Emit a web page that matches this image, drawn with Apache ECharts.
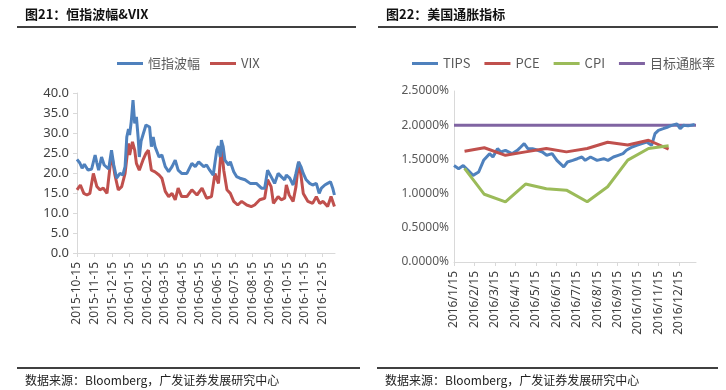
<!DOCTYPE html>
<html><head><meta charset="utf-8">
<script src="https://cdn.jsdelivr.net/npm/echarts@6/dist/echarts.min.js"></script>
<style>html,body{margin:0;padding:0;background:#fff}#c{width:726px;height:390px}</style>
</head><body><div id="c"></div><script>
// ---------- Left chart: 恒指波幅 & VIX ----------
const hsiDates = ['2015-10-15','2015-10-20','2015-10-24','2015-10-28','2015-10-31','2015-11-04','2015-11-10','2015-11-16','2015-11-19','2015-11-22','2015-11-27','2015-12-01','2015-12-05','2015-12-09','2015-12-14','2015-12-18','2015-12-23','2015-12-29','2016-01-03','2016-01-07','2016-01-10','2016-01-13','2016-01-15','2016-01-18','2016-01-21','2016-01-24','2016-01-27','2016-01-30','2016-02-02','2016-02-05','2016-02-08','2016-02-13','2016-02-16','2016-02-19','2016-02-22','2016-02-25','2016-02-28','2016-03-05','2016-03-10','2016-03-16','2016-03-22','2016-03-28','2016-04-03','2016-04-08','2016-04-14','2016-04-23','2016-05-01','2016-05-07','2016-05-13','2016-05-22','2016-05-27','2016-06-02','2016-06-08','2016-06-14','2016-06-17','2016-06-20','2016-06-22','2016-06-25','2016-06-28','2016-07-04','2016-07-07','2016-07-13','2016-07-18','2016-07-24','2016-08-02','2016-08-11','2016-08-22','2016-08-31','2016-09-06','2016-09-11','2016-09-17','2016-09-23','2016-09-29','2016-10-04','2016-10-10','2016-10-13','2016-10-19','2016-10-25','2016-10-30','2016-11-04','2016-11-08','2016-11-12','2016-11-17','2016-11-23','2016-11-28','2016-12-04','2016-12-09','2016-12-13','2016-12-19','2016-12-24','2016-12-29','2017-01-02','2017-01-05'];
const hsiValues = [23.4,22.5,21.2,22.2,21.8,20.7,21.0,24.5,22.5,20.7,24.0,22.0,21.5,21.0,25.7,22.0,18.7,19.9,19.5,21.6,29.0,31.0,29.5,33.0,38.2,32.4,34.0,29.0,24.0,28.0,29.5,32.0,32.4,31.5,26.6,29.0,26.6,24.0,24.5,21.6,20.3,21.6,23.2,20.7,19.9,19.9,22.4,21.6,22.8,21.6,22.0,20.7,19.5,25.7,26.7,24.0,28.2,26.6,23.2,22.0,22.8,20.3,19.1,18.7,18.3,17.4,17.4,16.2,16.2,20.7,19.1,17.4,19.9,19.1,18.3,19.5,18.7,17.0,19.9,22.8,21.6,19.9,18.3,17.4,17.0,17.4,14.9,16.2,17.0,17.4,17.8,16.2,14.5];
const vixDates = ['2015-10-15','2015-10-21','2015-10-27','2015-11-02','2015-11-07','2015-11-13','2015-11-19','2015-11-24','2015-11-30','2015-12-06','2015-12-12','2015-12-15','2015-12-20','2015-12-26','2016-01-01','2016-01-07','2016-01-13','2016-01-15','2016-01-20','2016-01-24','2016-01-27','2016-02-02','2016-02-08','2016-02-13','2016-02-17','2016-02-22','2016-02-28','2016-03-05','2016-03-10','2016-03-16','2016-03-22','2016-03-28','2016-04-03','2016-04-08','2016-04-14','2016-04-23','2016-05-01','2016-05-10','2016-05-19','2016-05-27','2016-06-05','2016-06-11','2016-06-17','2016-06-22','2016-06-26','2016-07-01','2016-07-07','2016-07-13','2016-07-20','2016-07-27','2016-08-05','2016-08-13','2016-08-19','2016-08-28','2016-09-06','2016-09-11','2016-09-17','2016-09-21','2016-09-29','2016-10-04','2016-10-10','2016-10-13','2016-10-18','2016-10-25','2016-10-30','2016-11-04','2016-11-08','2016-11-12','2016-11-20','2016-11-28','2016-12-04','2016-12-10','2016-12-16','2016-12-24','2016-12-30','2017-01-05'];
const vixValues = [15.8,17.0,14.9,14.5,14.9,19.9,16.6,15.8,16.2,14.9,22.4,24.0,19.5,15.8,16.6,19.9,27.4,24.5,27.8,25.7,22.4,20.7,23.2,24.9,25.7,20.7,20.3,19.5,18.7,15.4,14.1,14.9,13.3,16.2,14.1,14.1,15.8,14.5,16.2,13.7,14.1,19.9,17.4,26.6,20.7,15.8,14.9,12.9,12.0,12.9,12.0,11.6,12.0,13.3,13.7,18.3,16.6,12.4,14.1,13.3,13.7,17.0,14.5,12.9,16.6,22.8,19.5,14.9,12.9,12.4,14.1,12.4,12.9,11.6,14.1,11.6];
const leftTicks = ['2015-10-15','2015-11-15','2015-12-15','2016-01-15','2016-02-15','2016-03-15','2016-04-15','2016-05-15','2016-06-15','2016-07-15','2016-08-15','2016-09-15','2016-10-15','2016-11-15','2016-12-15'];
const leftEnd = '2017-01-06';

// ---------- Right chart: 美国通胀指标 ----------
const tipsDates = ['2016-01-15','2016-01-22','2016-01-29','2016-02-06','2016-02-13','2016-02-21','2016-02-28','2016-03-07','2016-03-12','2016-03-19','2016-03-24','2016-03-31','2016-04-10','2016-04-18','2016-04-23','2016-04-28','2016-05-03','2016-05-10','2016-05-18','2016-05-25','2016-06-01','2016-06-09','2016-06-16','2016-06-21','2016-06-26','2016-07-01','2016-07-09','2016-07-16','2016-07-23','2016-07-28','2016-08-05','2016-08-15','2016-08-25','2016-09-01','2016-09-09','2016-09-16','2016-09-23','2016-09-28','2016-10-06','2016-10-13','2016-10-21','2016-10-28','2016-11-05','2016-11-10','2016-11-15','2016-11-22','2016-11-29','2016-12-04','2016-12-12','2016-12-17','2016-12-22','2016-12-29','2017-01-08'];
const tipsValues = [1.41,1.365,1.41,1.34,1.267,1.316,1.486,1.584,1.535,1.657,1.608,1.633,1.584,1.633,1.681,1.73,1.657,1.657,1.633,1.608,1.56,1.584,1.486,1.438,1.39,1.462,1.486,1.51,1.535,1.486,1.535,1.486,1.51,1.486,1.535,1.56,1.584,1.633,1.681,1.706,1.73,1.754,1.706,1.876,1.925,1.949,1.974,1.998,2.02,1.949,1.998,1.99,2.01];
const monthEnds = ['2016-01-31','2016-02-29','2016-03-31','2016-04-30','2016-05-31','2016-06-30','2016-07-31','2016-08-31','2016-09-30','2016-10-31','2016-11-30'];
const pceValues = [1.62,1.67,1.56,1.61,1.66,1.61,1.66,1.75,1.71,1.78,1.65];
const cpiValues = [1.37,0.99,0.88,1.14,1.07,1.05,0.88,1.10,1.49,1.66,1.70];
const targetDates = ['2016-01-15','2017-01-10'];
const targetValues = [2.0,2.0];
const rightTicks = ['2016-01-15','2016-02-15','2016-03-15','2016-04-15','2016-05-15','2016-06-15','2016-07-15','2016-08-15','2016-09-15','2016-10-15','2016-11-15','2016-12-15'];
const rightEnd = '2017-01-10';

// date -> month position (integer = 15th of month)
function dim(y,m){return new Date(y,m,0).getDate();}
function mpos(s){const p=s.split('-').map(Number);return p[0]*12+(p[1]-1)+(p[2]-15)/dim(p[0],p[1]);}
function pairs(d,v){return d.map((x,i)=>[mpos(x),v[i]]);}
function pad(n){return n<10?'0'+n:''+n;}
function ym(v){const r=Math.round(v);return {y:Math.floor(r/12), m:r%12+1};}

const BLUE='#4F81BD', RED='#C0504D', GREEN='#9BBB59', PURPLE='#8064A2';
const axisGray='#D9D9D9', labelCol='#595959';
const lblFont="'Noto Sans', 'Liberation Sans', sans-serif";

const chart = echarts.init(document.getElementById('c'), null, {renderer:'canvas'});
chart.setOption({
  animation:false,
  backgroundColor:'#fff',
  title:[
    {text:'图21：恒指波幅&VIX', left:25, top:8, padding:0, textStyle:{fontSize:13, fontWeight:'bold', color:'#111', fontFamily:'Noto Sans CJK SC'}},
    {text:'图22：美国通胀指标', left:386, top:8, padding:0, textStyle:{fontSize:13, fontWeight:'bold', color:'#111', fontFamily:'Noto Sans CJK SC'}},
    {text:'数据来源：Bloomberg，广发证券发展研究中心', left:25, top:374, padding:0, textStyle:{fontSize:12, fontWeight:'normal', color:'#222', fontFamily:'Noto Sans CJK SC'}},
    {text:'数据来源：Bloomberg，广发证券发展研究中心', left:385, top:374, padding:0, textStyle:{fontSize:12, fontWeight:'normal', color:'#222', fontFamily:'Noto Sans CJK SC'}}
  ],
  graphic:[
    {type:'line', shape:{x1:17,y1:27,x2:356,y2:27}, style:{stroke:'#000', lineWidth:1.5}},
    {type:'line', shape:{x1:378,y1:27,x2:718,y2:27}, style:{stroke:'#000', lineWidth:1.5}},
    {type:'line', shape:{x1:17,y1:368,x2:360,y2:368}, style:{stroke:'#000', lineWidth:1.5}},
    {type:'line', shape:{x1:377,y1:368,x2:718,y2:368}, style:{stroke:'#000', lineWidth:1.5}}
  ],
  legend:[
    {data:['恒指波幅','VIX'], left:117, top:57, itemWidth:26, itemHeight:3, itemGap:10, icon:'rect', padding:0,
     textStyle:{fontSize:13, color:labelCol, fontFamily:'Noto Sans CJK SC'}},
    {data:['TIPS','PCE','CPI','目标通胀率'], left:412, top:57, itemWidth:26, itemHeight:3, itemGap:14, icon:'rect', padding:0,
     textStyle:{fontSize:13, color:labelCol, fontFamily:'Noto Sans CJK SC'}}
  ],
  grid:[
    {left:77, top:93, width:258, height:160, containLabel:false},
    {left:454, top:91, width:242, height:171, containLabel:false}
  ],
  xAxis:[
    {type:'value', gridIndex:0, min:mpos(leftTicks[0]), max:mpos(leftEnd),
     axisLine:{onZero:false, lineStyle:{color:axisGray, width:1}},
     axisTick:{show:true, length:4, lineStyle:{color:axisGray}, customValues:leftTicks.map(mpos)},
     axisLabel:{rotate:90, fontSize:12, color:'#404040', fontFamily:lblFont, margin:9, hideOverlap:false,
       customValues:leftTicks.map(mpos),
       formatter:function(v){const o=ym(v);return o.y+'-'+pad(o.m)+'-15';}},
     splitLine:{show:false}},
    {type:'value', gridIndex:1, min:mpos(rightTicks[0]), max:mpos(rightEnd),
     axisLine:{onZero:false, lineStyle:{color:axisGray, width:1}},
     axisTick:{show:true, length:4, lineStyle:{color:axisGray}, customValues:rightTicks.map(mpos)},
     axisLabel:{rotate:90, fontSize:12, color:'#404040', fontFamily:lblFont, margin:9, hideOverlap:false,
       customValues:rightTicks.map(mpos),
       formatter:function(v){const o=ym(v);return o.y+'/'+o.m+'/15';}},
     splitLine:{show:false}}
  ],
  yAxis:[
    {type:'value', gridIndex:0, min:0, max:40, interval:5,
     axisLine:{show:true, lineStyle:{color:axisGray}},
     axisTick:{show:true, length:4, lineStyle:{color:axisGray}},
     axisLabel:{fontSize:13, color:'#404040', fontFamily:lblFont, margin:8, formatter:function(v){return v.toFixed(1);}},
     splitLine:{show:false}},
    {type:'value', gridIndex:1, min:0, max:2.5, interval:0.5,
     axisLine:{show:true, lineStyle:{color:axisGray}},
     axisTick:{show:false},
     axisLabel:{fontSize:12, color:'#595959', fontFamily:lblFont, margin:5, formatter:function(v){return v.toFixed(4)+'%';}},
     splitLine:{show:false}}
  ],
  series:[
    {name:'恒指波幅', type:'line', xAxisIndex:0, yAxisIndex:0, data:pairs(hsiDates,hsiValues), showSymbol:false, symbol:'none',
     lineStyle:{color:BLUE, width:3}, itemStyle:{color:BLUE}, z:3},
    {name:'VIX', type:'line', xAxisIndex:0, yAxisIndex:0, data:pairs(vixDates,vixValues), showSymbol:false, symbol:'none',
     lineStyle:{color:RED, width:3}, itemStyle:{color:RED}, z:2},
    {name:'目标通胀率', type:'line', xAxisIndex:1, yAxisIndex:1, data:pairs(targetDates,targetValues), showSymbol:false, symbol:'none',
     lineStyle:{color:PURPLE, width:3}, itemStyle:{color:PURPLE}, z:1},
    {name:'TIPS', type:'line', xAxisIndex:1, yAxisIndex:1, data:pairs(tipsDates,tipsValues), showSymbol:false, symbol:'none',
     lineStyle:{color:BLUE, width:3}, itemStyle:{color:BLUE}, z:2},
    {name:'PCE', type:'line', xAxisIndex:1, yAxisIndex:1, data:pairs(monthEnds,pceValues), showSymbol:false, symbol:'none',
     lineStyle:{color:RED, width:3}, itemStyle:{color:RED}, z:2},
    {name:'CPI', type:'line', xAxisIndex:1, yAxisIndex:1, data:pairs(monthEnds,cpiValues), showSymbol:false, symbol:'none',
     lineStyle:{color:GREEN, width:3}, itemStyle:{color:GREEN}, z:2}
  ]
});
</script></body></html>
